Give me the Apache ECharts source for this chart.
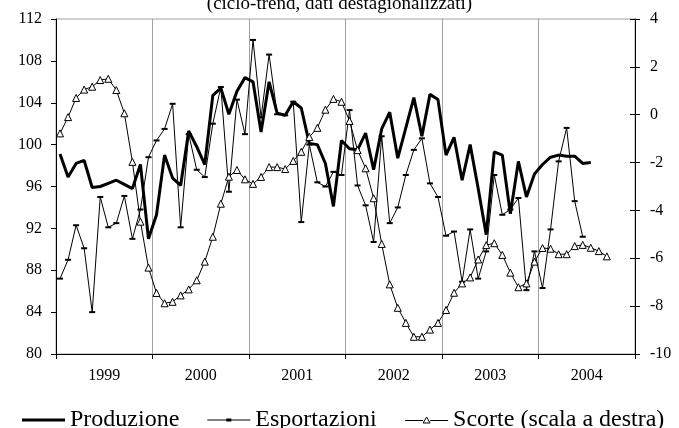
<!DOCTYPE html>
<html>
<head>
<meta charset="utf-8">
<script src="https://cdn.jsdelivr.net/npm/echarts@6/dist/echarts.min.js"></script>
<style>
  html, body { margin: 0; padding: 0; background: #fff; }
  #chart { width: 679px; height: 428px; }
</style>
</head>
<body>
<div id="chart"></div>
<script>
var years = ['1999', '2000', '2001', '2002', '2003', '2004']

// monthly series, Jan 1999 onwards
var produzione = [
  99.1, 96.9, 98.2, 98.5, 95.9, 96.0, 96.3, 96.6, 96.2, 95.8, 98.1, 91.0,
  93.3, 99.0, 96.8, 96.1, 101.3, 99.8, 98.1, 104.7, 105.4, 102.9, 105.1, 106.4,
  106.0, 101.2, 106.0, 103.0, 102.8, 104.1, 103.5, 100.1, 100.0, 98.2, 94.1, 100.4,
  99.6, 99.5, 101.1, 97.6, 101.5, 103.1, 98.7, 101.6, 104.5, 100.8, 104.8, 104.3,
  99.0, 100.7, 96.6, 100.0, 95.8, 91.4, 99.3, 99.0, 93.4, 98.4, 95.0, 97.2,
  98.1, 98.8, 99.0, 98.9, 98.9, 98.2, 98.3
]
var esportazioni = [
  87.2, 89.0, 92.3, 90.1, 84.0, 95.0, 92.1, 92.5, 95.1, 91.0, 93.8, 98.8,
  100.4, 101.5, 103.9, 92.1, 101.0, 97.6, 96.9, 102.0, 105.5, 95.5, 104.3, 101.0,
  110.0, 102.6, 108.6, 102.9, 102.8, 104.1, 92.6, 100.0, 96.4, 96.0, 97.4, 97.1,
  103.3, 96.1, 94.2, 90.7, 100.8, 92.5, 94.0, 97.1, 99.5, 100.6, 96.3, 95.0,
  91.3, 91.7, 86.9, 91.9, 87.2, 89.8, 97.1, 93.3, 93.8, 94.9, 86.1, 89.8,
  86.3, 91.9, 98.4, 101.6, 94.6, 91.2
]
var scorte = [
  -0.78, -0.10, 0.70, 1.05, 1.17, 1.45, 1.50, 1.03, 0.06, -1.97, -4.47, -6.39,
  -7.45, -7.88, -7.82, -7.55, -7.30, -6.92, -6.14, -5.10, -3.72, -2.59, -2.31, -2.70,
  -2.89, -2.60, -2.19, -2.19, -2.27, -1.93, -1.55, -0.93, -0.55, 0.21, 0.66, 0.54,
  -0.26, -1.48, -2.24, -3.49, -5.40, -7.09, -8.07, -8.70, -9.28, -9.28, -8.98, -8.70,
  -8.16, -7.44, -7.05, -6.80, -6.05, -5.45, -5.37, -5.86, -6.60, -7.21, -7.05, -6.14,
  -5.57, -5.60, -5.83, -5.83, -5.49, -5.44, -5.56, -5.70, -5.92
]

var months = []
years.forEach(function (y) {
  for (var m = 1; m <= 12; m++) {
    months.push(y + '-' + (m < 10 ? '0' + m : m))
  }
})

var font = 'Liberation Serif'
var chart = echarts.init(document.getElementById('chart'))

var option = {
  animation: false,
  backgroundColor: '#fff',
  title: {
    text: '(ciclo-trend, dati destagionalizzati)',
    left: 'center',
    top: -10,
    textStyle: { fontFamily: font, fontSize: 19, fontWeight: 'normal', color: '#000' }
  },
  grid: {
    left: 56,
    right: 44,
    top: 19,
    bottom: 74,
    show: true,
    borderColor: '#a0a0a0',
    borderWidth: 1
  },
  legend: {
    left: 17,
    top: 403,
    width: 662,
    itemWidth: 43,
    itemHeight: 10,
    itemGap: 28,
    textStyle: { fontFamily: font, fontSize: 24, color: '#000' },
    data: [
      {
        name: 'Produzione',
        icon: 'path://M0,0h43v3h-43z',
        itemStyle: { color: '#000', borderWidth: 0 }
      },
      {
        name: 'Esportazioni',
        icon: 'path://M0,1h43v1h-43z M19,0h5v3h-5z',
        itemStyle: { color: '#000', borderWidth: 0 }
      },
      {
        name: 'Scorte (scala a destra)',
        icon: 'path://M0,3.5L18,3.5 M25,3.5L43,3.5 M21.5,0L25,6L18,6Z',
        itemStyle: { color: '#fff', borderColor: '#000', borderWidth: 1 }
      }
    ]
  },
  xAxis: [
    {
      type: 'category',
      position: 'bottom',
      data: months,
      boundaryGap: true,
      show: false,
      axisLine: { onZero: false }
    },
    {
      type: 'category',
      position: 'bottom',
      data: years,
      boundaryGap: true,
      axisLine: { onZero: false, lineStyle: { color: '#000', width: 1 } },
      axisTick: { show: true, length: 5, interval: 0, lineStyle: { color: '#000' } },
      axisLabel: { interval: 0, margin: 14, fontFamily: font, fontSize: 16, color: '#000' },
      splitLine: { show: true, interval: 0, lineStyle: { color: '#a0a0a0', width: 1 } }
    }
  ],
  yAxis: [
    {
      type: 'value',
      position: 'left',
      min: 80,
      max: 112,
      interval: 4,
      axisLine: { show: true, onZero: false, lineStyle: { color: '#000', width: 1 } },
      axisTick: { show: true, length: 5, lineStyle: { color: '#000' } },
      axisLabel: { margin: 14, fontFamily: font, fontSize: 16, color: '#000' },
      splitLine: { show: false }
    },
    {
      type: 'value',
      position: 'right',
      min: -10,
      max: 4,
      interval: 2,
      axisLine: { show: true, onZero: false, lineStyle: { color: '#000', width: 1 } },
      axisTick: { show: true, length: 5, lineStyle: { color: '#000' } },
      axisLabel: { margin: 15, fontFamily: font, fontSize: 16, color: '#000' },
      splitLine: { show: false }
    },
    {
      // inner half of the crossing ticks on the right axis
      type: 'value',
      position: 'right',
      min: -10,
      max: 4,
      interval: 2,
      axisLine: { show: false, onZero: false },
      axisTick: { show: true, inside: true, length: 5, lineStyle: { color: '#000' } },
      axisLabel: { show: false },
      splitLine: { show: false }
    }
  ],
  series: [
    {
      name: 'Esportazioni',
      type: 'line',
      xAxisIndex: 0,
      yAxisIndex: 0,
      data: esportazioni,
      symbol: 'rect',
      symbolSize: [6, 2],
      showAllSymbol: true,
      itemStyle: { color: '#000' },
      lineStyle: { color: '#000', width: 1 }
    },
    {
      name: 'Scorte (scala a destra)',
      type: 'line',
      xAxisIndex: 0,
      yAxisIndex: 1,
      data: scorte,
      symbol: 'triangle',
      symbolSize: 7,
      showAllSymbol: true,
      itemStyle: { color: '#fff', borderColor: '#000', borderWidth: 1 },
      lineStyle: { color: '#000', width: 1 }
    },
    {
      name: 'Produzione',
      type: 'line',
      xAxisIndex: 0,
      yAxisIndex: 0,
      data: produzione,
      symbol: 'none',
      itemStyle: { color: '#000' },
      lineStyle: { color: '#000', width: 3 }
    }
  ]
}

chart.setOption(option)
</script>
</body>
</html>
